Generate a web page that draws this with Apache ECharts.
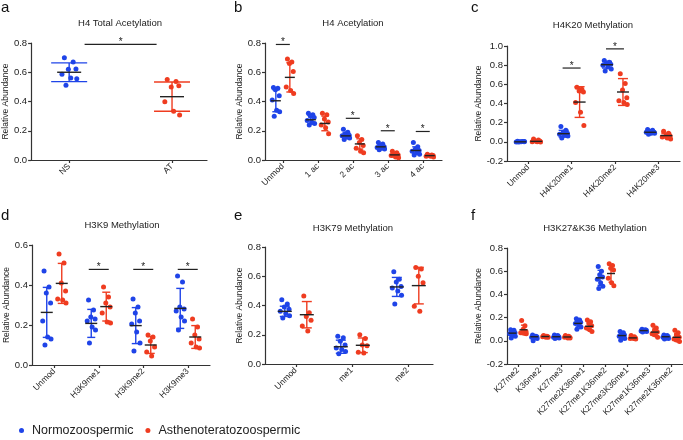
<!DOCTYPE html>
<html>
<head>
<meta charset="utf-8">
<script src="https://cdn.jsdelivr.net/npm/echarts@6/dist/echarts.min.js"></script>
<style>
html, body { margin: 0; padding: 0; background: #fff; }
#main { width: 683px; height: 440px; }
</style>
</head>
<body>
<div id="main"></div>
<script>
// ---------- data ----------
// a: H4 total acetylation
var aCats = ['NS', 'AT'];
var aNorm = [[0.70, 0.67, 0.62, 0.623, 0.586, 0.561, 0.555, 0.511], []];
var aNormMean = [0.60, null];
var aNormSD = [0.064, null];
var aAsth = [[], [0.55, 0.536, 0.50, 0.507, 0.398, 0.334, 0.307]];
var aAsthMean = [null, 0.433];
var aAsthSD = [null, 0.10];
var aSig = [[0, 1, 0.79]];

// b: H4 acetylation
var bCats = ['Unmod', '1 ac', '2 ac', '3 ac', '4 ac'];
var bNorm = [
    [0.495, 0.49, 0.48, 0.44, 0.41, 0.34, 0.33, 0.30],
    [0.32, 0.31, 0.30, 0.29, 0.27, 0.26, 0.25, 0.24],
    [0.21, 0.19, 0.18, 0.17, 0.165, 0.16, 0.15, 0.14],
    [0.12, 0.11, 0.10, 0.09, 0.085, 0.08, 0.075, 0.07],
    [0.12, 0.09, 0.075, 0.065, 0.06, 0.05, 0.04, 0.035]
];
var bNormMean = [0.405, 0.275, 0.165, 0.09, 0.065];
var bNormSD = [0.075, 0.03, 0.02, 0.015, 0.025];
var bAsth = [
    [0.69, 0.67, 0.66, 0.605, 0.50, 0.475, 0.455],
    [0.32, 0.31, 0.28, 0.26, 0.24, 0.22, 0.18],
    [0.165, 0.14, 0.12, 0.10, 0.08, 0.06, 0.05],
    [0.06, 0.05, 0.04, 0.035, 0.03, 0.02, 0.015],
    [0.04, 0.035, 0.03, 0.03, 0.025, 0.025, 0.02]
];
var bAsthMean = [0.565, 0.25, 0.11, 0.035, 0.03];
var bAsthSD = [0.10, 0.05, 0.035, 0.015, 0.007];
var bSig = [[0, 0, 0.79], [2, 2, 0.285], [3, 3, 0.20], [4, 4, 0.195]];

// c: H4K20 methylation
var cCats = ['Unmod', 'H4K20me1', 'H4K20me2', 'H4K20me3'];
var cNorm = [
    [0.005, 0.003, 0.0, 0.0, -0.002, 0.002, 0.004, -0.003],
    [0.16, 0.12, 0.10, 0.09, 0.08, 0.07, 0.06, 0.04],
    [0.85, 0.83, 0.82, 0.81, 0.80, 0.78, 0.76, 0.74],
    [0.13, 0.12, 0.11, 0.10, 0.10, 0.09, 0.09, 0.08]
];
var cNormMean = [0.0, 0.085, 0.805, 0.10];
var cNormSD = [0.003, 0.035, 0.035, 0.015];
var cAsth = [
    [0.03, 0.02, 0.01, 0.005, 0.0, 0.0, -0.003],
    [0.57, 0.55, 0.53, 0.52, 0.41, 0.31, 0.17],
    [0.71, 0.61, 0.54, 0.46, 0.43, 0.41, 0.39],
    [0.11, 0.09, 0.07, 0.06, 0.05, 0.04, 0.03]
];
var cAsthMean = [0.005, 0.415, 0.52, 0.065];
var cAsthSD = [0.012, 0.16, 0.14, 0.025];
var cSig = [[1, 1, 0.77], [2, 2, 0.97]];

// d: H3K9 methylation
var dCats = ['Unmod', 'H3K9me1', 'H3K9me2', 'H3K9me3'];
var dNorm = [
    [0.47, 0.39, 0.36, 0.31, 0.22, 0.14, 0.13, 0.10],
    [0.325, 0.275, 0.24, 0.23, 0.22, 0.19, 0.175, 0.11],
    [0.33, 0.29, 0.26, 0.22, 0.205, 0.165, 0.11, 0.07],
    [0.445, 0.415, 0.29, 0.28, 0.27, 0.24, 0.22, 0.175]
];
var dNormMean = [0.263, 0.208, 0.197, 0.283];
var dNormSD = [0.125, 0.07, 0.09, 0.10];
var dAsth = [
    [0.555, 0.51, 0.41, 0.37, 0.33, 0.325, 0.31],
    [0.39, 0.34, 0.31, 0.29, 0.26, 0.215, 0.21],
    [0.15, 0.14, 0.12, 0.09, 0.065, 0.045],
    [0.23, 0.19, 0.15, 0.13, 0.11, 0.09, 0.085]
];
var dAsthMean = [0.408, 0.292, 0.10, 0.14];
var dAsthSD = [0.10, 0.072, 0.042, 0.057];
var dSig = [[1, 1, 0.478], [2, 2, 0.478], [3, 3, 0.478]];

// e: H3K79 methylation
var eCats = ['Unmod', 'me1', 'me2'];
var eNorm = [
    [0.44, 0.41, 0.39, 0.375, 0.36, 0.345, 0.33, 0.315],
    [0.19, 0.18, 0.155, 0.13, 0.11, 0.10, 0.085, 0.07],
    [0.63, 0.58, 0.56, 0.53, 0.52, 0.50, 0.47, 0.41]
];
var eNormMean = [0.36, 0.118, 0.527];
var eNormSD = [0.035, 0.045, 0.065];
var eAsth = [
    [0.465, 0.35, 0.325, 0.30, 0.26, 0.225],
    [0.20, 0.175, 0.13, 0.125, 0.08, 0.075],
    [0.66, 0.65, 0.60, 0.555, 0.395, 0.36]
];
var eAsthMean = [0.337, 0.128, 0.536];
var eAsthSD = [0.09, 0.05, 0.125];
var eSig = [];

// f: H3K27 & K36 methylation
var fCats = ['K27me2', 'K36me2', 'K27me3', 'K27me2K36me1', 'K27me1K36me2', 'K27me3K36me1', 'K27me1K36me3', 'K27me2K36me2'];
var fNorm = [
    [0.095, 0.09, 0.08, 0.07, 0.06, 0.05, 0.04, 0.025],
    [0.05, 0.04, 0.04, 0.035, 0.03, 0.03, 0.02, 0.0],
    [0.05, 0.045, 0.04, 0.035, 0.03, 0.03, 0.025, 0.02],
    [0.19, 0.18, 0.17, 0.16, 0.15, 0.14, 0.12, 0.10],
    [0.64, 0.60, 0.57, 0.55, 0.53, 0.50, 0.47, 0.45],
    [0.08, 0.07, 0.06, 0.05, 0.04, 0.03, 0.02, 0.005],
    [0.10, 0.095, 0.09, 0.09, 0.085, 0.085, 0.08, 0.075],
    [0.05, 0.045, 0.04, 0.035, 0.03, 0.025, 0.02, 0.015]
];
var fNormMean = [0.066, 0.035, 0.035, 0.15, 0.543, 0.045, 0.088, 0.035];
var fNormSD = [0.025, 0.015, 0.01, 0.03, 0.065, 0.025, 0.01, 0.012];
var fAsth = [
    [0.175, 0.13, 0.10, 0.08, 0.07, 0.065, 0.06],
    [0.045, 0.04, 0.04, 0.035, 0.035, 0.03, 0.03],
    [0.045, 0.04, 0.035, 0.03, 0.03, 0.025, 0.025],
    [0.18, 0.165, 0.15, 0.13, 0.11, 0.095, 0.08],
    [0.665, 0.65, 0.625, 0.61, 0.54, 0.50, 0.475],
    [0.045, 0.035, 0.03, 0.025, 0.02, 0.02, 0.015],
    [0.135, 0.11, 0.09, 0.075, 0.06, 0.05, 0.03],
    [0.09, 0.07, 0.05, 0.03, 0.015, 0.005, -0.005]
];
var fAsthMean = [0.095, 0.037, 0.033, 0.125, 0.58, 0.025, 0.075, 0.03];
var fAsthSD = [0.04, 0.006, 0.008, 0.035, 0.075, 0.01, 0.035, 0.035];

// ---------- layout ----------
var BLUE = '#1f44e8';
var RED = '#ef3c20';
var INK = '#222';
var FONT = "'Liberation Sans', Arial, sans-serif";
var jitterPattern = [-0.6, 0.5, -0.1, 0.85, -0.9, 0.2, 0.95, -0.4, 0.4];

var panels = [
    { letter: 'a', title: 'H4 Total Acetylation', cats: aCats,
      norm: aNorm, nm: aNormMean, ns: aNormSD, asth: aAsth, am: aAsthMean, as: aAsthSD, sig: aSig,
      grid: { left: 31, top: 43, width: 176, height: 117 }, x: [-0.37, 1.34], y: [0, 0.8],
      off: 0, jit: 8, cap: 18, mean: 12, sigHalf: 36, titleX: 120, titleY: 18, letterX: 1, letterY: 0 },
    { letter: 'b', title: 'H4 Acetylation', cats: bCats,
      norm: bNorm, nm: bNormMean, ns: bNormSD, asth: bAsth, am: bAsthMean, as: bAsthSD, sig: bSig,
      grid: { left: 265, top: 43, width: 177, height: 117 }, x: [-0.51, 4.55], y: [0, 0.8],
      off: 7, jit: 4, cap: 3.5, mean: 5, sigHalf: 7, titleX: 353, titleY: 18, letterX: 234, letterY: 0 },
    { letter: 'c', title: 'H4K20 Methylation', cats: cCats,
      norm: cNorm, nm: cNormMean, ns: cNormSD, asth: cAsth, am: cAsthMean, as: cAsthSD, sig: cSig,
      grid: { left: 507, top: 46, width: 173, height: 115 }, x: [-0.49, 3.5], y: [-0.2, 1.0],
      off: 8, jit: 4.5, cap: 5, mean: 6, sigHalf: 9, titleX: 593, titleY: 20, letterX: 471, letterY: 0 },
    { letter: 'd', title: 'H3K9 Methylation', cats: dCats,
      norm: dNorm, nm: dNormMean, ns: dNormSD, asth: dAsth, am: dAsthMean, as: dAsthSD, sig: dSig,
      grid: { left: 32, top: 245, width: 178, height: 120 }, x: [-0.5, 3.5], y: [0, 0.6],
      off: 7.5, jit: 4.5, cap: 4, mean: 6, sigHalf: 10, titleX: 122, titleY: 220, letterX: 1, letterY: 208 },
    { letter: 'e', title: 'H3K79 Methylation', cats: eCats,
      norm: eNorm, nm: eNormMean, ns: eNormSD, asth: eAsth, am: eAsthMean, as: eAsthSD, sig: eSig,
      grid: { left: 265, top: 247, width: 168, height: 117 }, x: [-0.55, 2.45], y: [0, 0.8],
      off: 11, jit: 5, cap: 5, mean: 7, sigHalf: 8, titleX: 353, titleY: 223, letterX: 234, letterY: 208 },
    { letter: 'f', title: 'H3K27&K36 Methylation', cats: fCats,
      norm: fNorm, nm: fNormMean, ns: fNormSD, asth: fAsth, am: fAsthMean, as: fAsthSD, sig: [],
      grid: { left: 507, top: 248, width: 176, height: 116 }, x: [-0.5, 7.54], y: [-0.2, 0.8],
      off: 5.5, jit: 3, cap: 2.5, mean: 4, sigHalf: 5, titleX: 595, titleY: 223, letterX: 471, letterY: 208 }
];

// 误差线: SD 竖线 + 端帽 + 均值横线
function errorBarItem(color, capPx, meanPx) {
    return function (params, api) {
        var x = api.value(0), m = api.value(1), s = api.value(2);
        var c = api.coord([x, m]);
        var hi = api.coord([x, m + s]);
        var lo = api.coord([x, m - s]);
        var st = { stroke: color, lineWidth: 1.4 };
        return {
            type: 'group',
            children: [
                { type: 'line', shape: { x1: c[0], y1: hi[1], x2: c[0], y2: lo[1] }, style: st },
                { type: 'line', shape: { x1: c[0] - capPx, y1: hi[1], x2: c[0] + capPx, y2: hi[1] }, style: st },
                { type: 'line', shape: { x1: c[0] - capPx, y1: lo[1], x2: c[0] + capPx, y2: lo[1] }, style: st },
                { type: 'line', shape: { x1: c[0] - meanPx, y1: c[1], x2: c[0] + meanPx, y2: c[1] },
                  style: { stroke: INK, lineWidth: 1.4 } }
            ]
        };
    };
}

// 显著性标记
function sigItem(halfPx) {
    return function (params, api) {
        var p = api.coord([(api.value(0) + api.value(1)) / 2, api.value(2)]);
        return {
            type: 'group',
            children: [
                { type: 'line', shape: { x1: p[0] - halfPx, y1: p[1], x2: p[0] + halfPx, y2: p[1] },
                  style: { stroke: INK, lineWidth: 1.2 } },
                { type: 'text', style: { text: '*', x: p[0], y: p[1] - 2, align: 'center', verticalAlign: 'middle',
                  fontSize: 10, fill: INK, fontFamily: FONT } }
            ]
        };
    };
}

var grids = [], xAxes = [], yAxes = [], series = [], titles = [];

panels.forEach(function (p, k) {
    var upp = (p.x[1] - p.x[0]) / p.grid.width; // 每像素对应的轴单位
    grids.push(p.grid);
    var idx = p.cats.map(function (c, i) { return i; });
    xAxes.push({
        type: 'value', gridIndex: k, min: p.x[0], max: p.x[1],
        axisLine: { show: true, onZero: false, lineStyle: { color: '#333', width: 1.2 } },
        axisTick: { show: true, length: 3, customValues: idx, lineStyle: { color: '#333', width: 1.2 } },
        axisLabel: {
            customValues: idx, rotate: 45, margin: 5, fontSize: 8.5, color: INK, fontFamily: FONT,
            formatter: function (v) { return p.cats[Math.round(v)]; }
        },
        splitLine: { show: false }
    });
    yAxes.push({
        type: 'value', gridIndex: k, min: p.y[0], max: p.y[1], interval: 0.2,
        name: 'Relative Abundance', nameLocation: 'middle', nameGap: 20,
        nameTextStyle: { fontSize: 8.5, color: INK, fontFamily: FONT },
        axisLine: { show: true, onZero: false, lineStyle: { color: '#333', width: 1.2 } },
        axisTick: { show: true, length: 3, lineStyle: { color: '#333', width: 1.2 } },
        axisLabel: { margin: 4, fontSize: 9.5, color: INK, fontFamily: FONT,
            formatter: function (v) { return v.toFixed(1); } },
        splitLine: { show: false }
    });

    var groups = [
        { name: 'Normozoospermic', color: BLUE, vals: p.norm, mean: p.nm, sd: p.ns, side: -1 },
        { name: 'Asthenoteratozoospermic', color: RED, vals: p.asth, mean: p.am, sd: p.as, side: 1 }
    ];
    groups.forEach(function (g) {
        var pts = [], bars = [];
        g.vals.forEach(function (list, i) {
            var cx = i + g.side * p.off * upp;
            list.forEach(function (v, j) {
                pts.push([cx + jitterPattern[j % jitterPattern.length] * p.jit * upp, v]);
            });
            if (g.mean[i] != null) bars.push([cx, g.mean[i], g.sd[i]]);
        });
        series.push({
            type: 'scatter', name: g.name, xAxisIndex: k, yAxisIndex: k,
            data: pts, symbolSize: 5, itemStyle: { color: g.color, opacity: 1 }, z: 2, silent: true
        });
        series.push({
            type: 'custom', xAxisIndex: k, yAxisIndex: k, data: bars,
            encode: { x: 0, y: 1 }, renderItem: errorBarItem(g.color, p.cap, p.mean), z: 3, silent: true
        });
    });
    if (p.sig.length) {
        series.push({
            type: 'custom', xAxisIndex: k, yAxisIndex: k, data: p.sig, clip: false,
            encode: { x: 0, y: 2 }, renderItem: sigItem(p.sigHalf), z: 4, silent: true
        });
    }

    titles.push({
        text: p.title, left: p.titleX, top: p.titleY, textAlign: 'center', padding: 0,
        textStyle: { fontSize: 9.5, fontWeight: 'normal', color: INK, fontFamily: FONT }
    });
    titles.push({
        text: p.letter, left: p.letterX, top: p.letterY, padding: 0,
        textStyle: { fontSize: 15, fontWeight: 'normal', color: '#111', fontFamily: FONT }
    });
});

var chart = echarts.init(document.getElementById('main'));
chart.setOption({
    animation: false,
    backgroundColor: '#fff',
    title: titles,
    legend: {
        left: 19, top: 424, padding: 0, icon: 'circle', itemWidth: 5, itemHeight: 5, itemGap: 12,
        data: ['Normozoospermic', 'Asthenoteratozoospermic'],
        textStyle: { fontSize: 12.5, color: INK, fontFamily: FONT, padding: [0, 0, 0, 3] }
    },
    grid: grids,
    xAxis: xAxes,
    yAxis: yAxes,
    series: series
});
</script>
</body>
</html>
